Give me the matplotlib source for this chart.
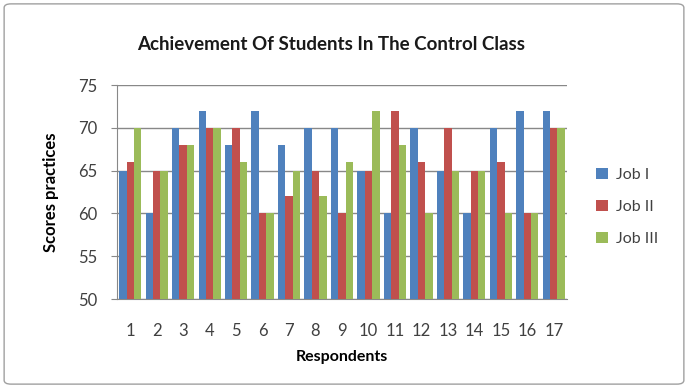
import matplotlib
matplotlib.use("Agg")
import matplotlib.pyplot as plt
import numpy as np
from matplotlib.patches import FancyBboxPatch

categories = [str(i) for i in range(1, 18)]
job1 = [65, 60, 70, 72, 68, 72, 68, 70, 70, 65, 60, 70, 65, 60, 70, 72, 72]
job2 = [66, 65, 68, 70, 70, 60, 62, 65, 60, 65, 72, 66, 70, 65, 66, 60, 70]
job3 = [70, 65, 68, 70, 66, 60, 65, 62, 66, 72, 68, 60, 65, 65, 60, 60, 70]
series_names = ["Job I", "Job II", "Job III"]
colors = ["#4F81BD", "#C0504D", "#9BBB59"]

plt.rcParams['font.family'] = ['Lato', 'DejaVu Sans']

fig = plt.figure(figsize=(6.88, 3.88), dpi=100)
fig.patch.set_facecolor("white")
border = FancyBboxPatch((0.006, 0.01), 0.988, 0.98, boxstyle="round,pad=0,rounding_size=0.01",
                        transform=fig.transFigure, fill=False, edgecolor="#a0a0a0", linewidth=1)
fig.patches.append(border)

ax = fig.add_axes([117/688, 1 - 299/388, 450/688, 214/388])
x = np.arange(len(categories))
w = 0.28
for i, (vals, name, c) in enumerate(zip([job1, job2, job3], series_names, colors)):
    ax.bar(x + (i - 1) * w, np.array(vals) - 50, bottom=50, width=w, color=c, label=name, zorder=3)

ax.set_ylim(50, 75)
ax.set_xlim(-0.5, len(categories) - 0.5)
ax.set_yticks([50, 55, 60, 65, 70, 75])
ax.set_xticks(x)
ax.set_xticklabels(categories)
ax.yaxis.grid(True, color="#888888", linewidth=1, zorder=0)
for s in ["top", "right"]:
    ax.spines[s].set_visible(False)
for s in ["left", "bottom"]:
    ax.spines[s].set_color("#888888")
ax.tick_params(axis="y", colors="#888888", labelcolor="#404040", labelsize=12, length=4,
               direction="out", pad=10)
ax.tick_params(axis="x", length=0, labelcolor="#404040", labelsize=12, pad=17)
ax.set_xlabel("Respondents", fontsize=11.5, fontweight="bold", labelpad=8)
ax.set_ylabel("Scores practices", fontsize=12, fontweight="bold", labelpad=14)
fig.text(331/688, 1 - 45/388, "Achievement Of Students In The Control Class",
         ha="center", va="center", fontsize=13.5, fontweight="bold", color="#1a1a1a")

handles, labels = ax.get_legend_handles_labels()
fig.legend(handles, labels, loc="center left", bbox_to_anchor=(582/688, 1 - 207/388),
           frameon=False, fontsize=11.5, handlelength=0.7, handleheight=0.7,
           labelspacing=1.1, handletextpad=0.5, labelcolor="#404040")

fig.savefig("out.png", dpi=100)
